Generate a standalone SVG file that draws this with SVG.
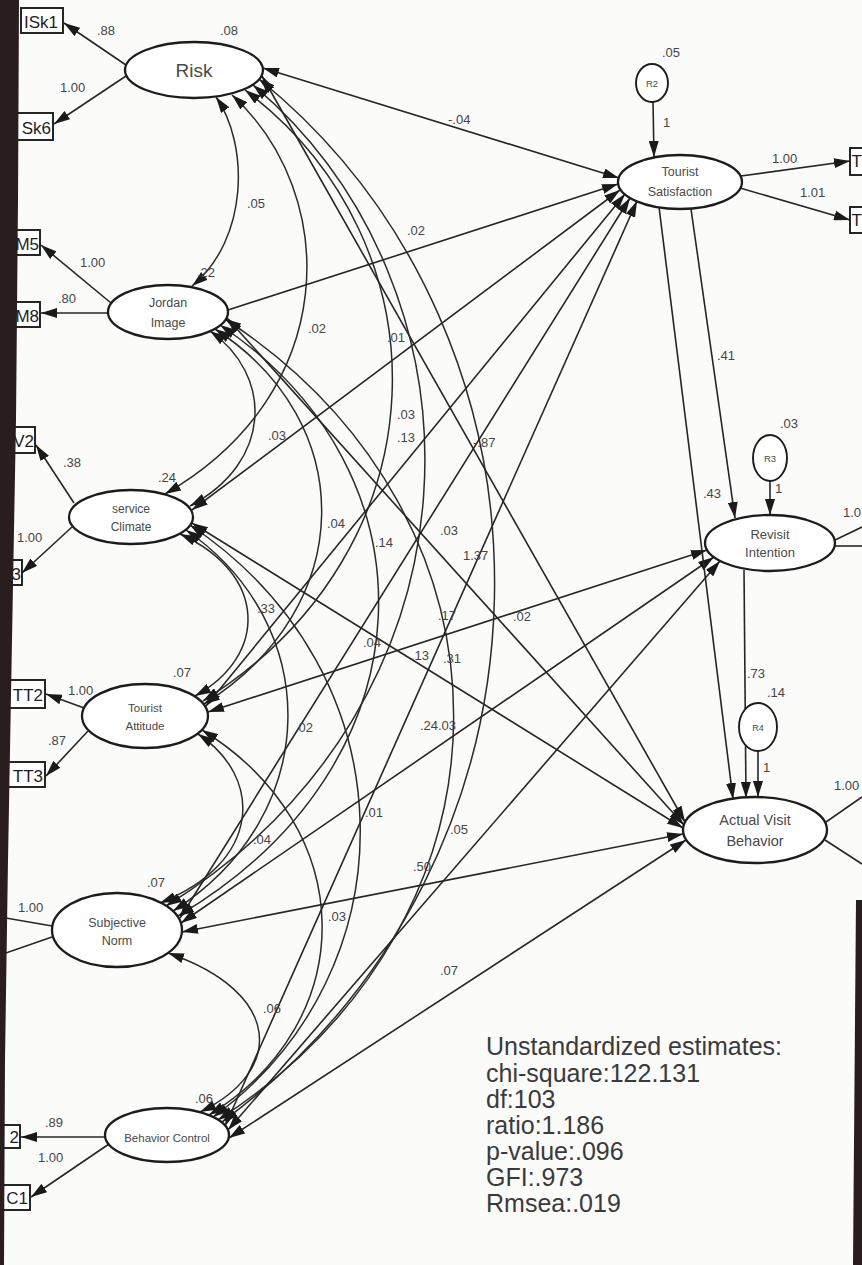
<svg xmlns="http://www.w3.org/2000/svg" width="862" height="1265" viewBox="0 0 862 1265">
  <style>
    .bg { fill: #fbfbfa; }
    .lat { fill: #ffffff; stroke: #1c1c1c; stroke-width: 2.3; }
    .res { fill: #ffffff; stroke: #1c1c1c; stroke-width: 1.9; }
    .obs { fill: #ffffff; stroke: #1c1c1c; stroke-width: 1.9; }
    .ln { fill: none; stroke: #262626; stroke-width: 1.6; }
    .cv { fill: none; stroke: #2b2b2b; stroke-width: 1.5; }
    .one { marker-end: url(#ah); }
    .two { marker-start: url(#ah); marker-end: url(#ah); }
    .nt { font-family: "Liberation Sans", Arial, sans-serif; fill: #4a4a4a; text-anchor: middle; }
    .ot { font-family: "Liberation Sans", Arial, sans-serif; fill: #1e1e1e; font-size: 17px; }
    .lb { font-family: "Liberation Sans", Arial, sans-serif; fill: #454545; font-size: 13px; }
    .fit { font-family: "Liberation Sans", Arial, sans-serif; fill: #3a3a3a; font-size: 25px; }
    .edge { fill: #2a1d1d; }
  </style>
  <defs>
    <marker id="ah" markerUnits="userSpaceOnUse" markerWidth="16" markerHeight="10" refX="16" refY="5" orient="auto-start-reverse">
      <path d="M0,0 L16,5 L0,10 z" fill="#1a1a1a"/>
    </marker>
  </defs>

  <rect class="bg" x="0" y="0" width="862" height="1265"/>

  <!-- connectors: loadings, covariances, structural paths, residual arrows -->
  <g id="connectors">
    <!-- measurement loadings -->
    <line class="ln one" x1="126" y1="65" x2="64" y2="23"/>
    <line class="ln one" x1="126" y1="76" x2="54" y2="124"/>
    <line class="ln one" x1="111" y1="303" x2="41" y2="245"/>
    <line class="ln one" x1="108" y1="313" x2="41" y2="313"/>
    <line class="ln one" x1="74" y1="503" x2="36" y2="445"/>
    <line class="ln one" x1="72" y1="527" x2="22" y2="573"/>
    <line class="ln one" x1="84" y1="708" x2="46" y2="694"/>
    <line class="ln one" x1="88" y1="731" x2="46" y2="776"/>
    <line class="ln" x1="52" y1="926" x2="0" y2="917"/>
    <line class="ln" x1="52" y1="937" x2="0" y2="955"/>
    <line class="ln one" x1="105" y1="1137" x2="21" y2="1137"/>
    <line class="ln one" x1="109" y1="1144" x2="31" y2="1197"/>
    <line class="ln one" x1="741" y1="176" x2="850" y2="161"/>
    <line class="ln one" x1="740" y1="188" x2="850" y2="220"/>
    <line class="ln" x1="835" y1="540" x2="862" y2="527"/>
    <line class="ln" x1="835" y1="546" x2="862" y2="546"/>
    <line class="ln" x1="826" y1="822" x2="862" y2="797"/>
    <line class="ln" x1="825" y1="840" x2="862" y2="864"/>

    <!-- covariances among exogenous factors -->
    <path class="cv two" d="M216,97 C249,144 249,239 192,286"/>
    <path class="cv two" d="M232,95 C341,195 341,393 165,494"/>
    <path class="cv two" d="M245,90 C448,243 448,548 203,701"/>
    <path class="cv two" d="M253,85 C495,290 495,701 166,906"/>
    <path class="cv two" d="M259,79 C579,339 579,859 222,1122"/>
    <path class="cv two" d="M210,331 C273,375 273,462 190,506"/>
    <path class="cv two" d="M215,329 C359,422 359,607 204,704"/>
    <path class="cv two" d="M220,325 C438,470 438,762 178,916"/>
    <path class="cv two" d="M225,319 C531,519 531,918 218,1120"/>
    <path class="cv two" d="M180,534 C268,574 268,656 195,696"/>
    <path class="cv two" d="M186,530 C324,625 324,815 173,911"/>
    <path class="cv two" d="M190,525 C413,674 413,972 213,1117"/>
    <path class="cv two" d="M198,734 C263,777 263,862 160,903"/>
    <path class="cv two" d="M202,730 C361,828 361,1022 209,1115"/>
    <path class="cv two" d="M168,953 C284,993 284,1072 200,1112"/>

    <!-- paths to Tourist Satisfaction -->
    <line class="ln two" x1="263" y1="68" x2="619" y2="178"/>
    <line class="ln one" x1="228" y1="310" x2="618" y2="184"/>
    <line class="ln two" x1="192" y1="510" x2="620" y2="190"/>
    <line class="ln two" x1="206" y1="706" x2="625" y2="194"/>
    <line class="ln two" x1="180" y1="918" x2="630" y2="198"/>
    <line class="ln two" x1="225" y1="1126" x2="637" y2="201"/>
    <!-- paths to Revisit Intention -->
    <line class="ln two" x1="208" y1="712" x2="707" y2="550"/>
    <line class="ln two" x1="181" y1="923" x2="714" y2="557"/>
    <line class="ln two" x1="228" y1="1130" x2="720" y2="561"/>
    <!-- paths to Actual Visit Behavior -->
    <line class="ln two" x1="262" y1="76" x2="685" y2="822"/>
    <line class="ln two" x1="227" y1="318" x2="684" y2="825"/>
    <line class="ln two" x1="192" y1="523" x2="683" y2="828"/>
    <line class="ln two" x1="182" y1="932" x2="683" y2="834"/>
    <line class="ln two" x1="229" y1="1138" x2="686" y2="840"/>
    <!-- endogenous paths and residuals -->
    <line class="ln one" x1="691" y1="209" x2="735" y2="518"/>
    <line class="ln one" x1="659" y1="207" x2="733" y2="799"/>
    <line class="ln one" x1="744" y1="570" x2="746" y2="798"/>
    <line class="ln one" x1="653" y1="102" x2="654" y2="157"/>
    <line class="ln one" x1="770" y1="481" x2="770" y2="515"/>
    <line class="ln one" x1="758" y1="751" x2="758" y2="797"/>
  </g>

  <!-- coefficient labels -->
  <g id="estimates" class="lb">
    <text x="97" y="35">.88</text>
    <text x="220" y="35">.08</text>
    <text x="60" y="92">1.00</text>
    <text x="80" y="267">1.00</text>
    <text x="58" y="303">.80</text>
    <text x="247" y="208">.05</text>
    <text x="197" y="277">.22</text>
    <text x="63" y="467">.38</text>
    <text x="17" y="542">1.00</text>
    <text x="158" y="482">.24</text>
    <text x="268" y="440">.03</text>
    <text x="68" y="695">1.00</text>
    <text x="48" y="745">.87</text>
    <text x="173" y="677">.07</text>
    <text x="18" y="912">1.00</text>
    <text x="147" y="887">.07</text>
    <text x="45" y="1127">.89</text>
    <text x="38" y="1162">1.00</text>
    <text x="195" y="1103">.06</text>
    <text x="662" y="57">.05</text>
    <text x="663" y="127">1</text>
    <text x="772" y="163">1.00</text>
    <text x="800" y="197">1.01</text>
    <text x="717" y="360">.41</text>
    <text x="780" y="428">.03</text>
    <text x="775" y="493">1</text>
    <text x="703" y="498">.43</text>
    <text x="843" y="517">1.0</text>
    <text x="747" y="678">.73</text>
    <text x="767" y="697">.14</text>
    <text x="763" y="772">1</text>
    <text x="834" y="790">1.00</text>
    <text x="448" y="124">-.04</text>
    <text x="407" y="235">.02</text>
    <text x="308" y="333">.02</text>
    <text x="387" y="342">.01</text>
    <text x="397" y="419">.03</text>
    <text x="397" y="442">.13</text>
    <text x="473" y="447">-.87</text>
    <text x="327" y="528">.04</text>
    <text x="375" y="547">.14</text>
    <text x="440" y="535">.03</text>
    <text x="463" y="560">1.37</text>
    <text x="257" y="613">.33</text>
    <text x="438" y="620">.17</text>
    <text x="513" y="621">.02</text>
    <text x="363" y="647">.04</text>
    <text x="411" y="660">.13</text>
    <text x="443" y="663">.31</text>
    <text x="295" y="732">.02</text>
    <text x="420" y="730">.24</text>
    <text x="438" y="730">.03</text>
    <text x="365" y="817">.01</text>
    <text x="450" y="834">.05</text>
    <text x="253" y="844">.04</text>
    <text x="413" y="871">.50</text>
    <text x="328" y="921">.03</text>
    <text x="440" y="975">.07</text>
    <text x="263" y="1013">.06</text>
  </g>

  <!-- latent factors -->
  <g id="node-risk">
    <ellipse class="lat" cx="194" cy="70" rx="69" ry="28"/>
    <text class="nt" x="194" y="77" font-size="19">Risk</text>
  </g>
  <g id="node-jordan-image">
    <ellipse class="lat" cx="168" cy="312" rx="60" ry="27"/>
    <text class="nt" x="168" y="307" font-size="12.5">Jordan</text>
    <text class="nt" x="168" y="327" font-size="12.5">Image</text>
  </g>
  <g id="node-service-climate">
    <ellipse class="lat" cx="131" cy="517" rx="62" ry="27"/>
    <text class="nt" x="131" y="513" font-size="12">service</text>
    <text class="nt" x="131" y="531" font-size="12">Climate</text>
  </g>
  <g id="node-tourist-attitude">
    <ellipse class="lat" cx="145" cy="716" rx="63" ry="32"/>
    <text class="nt" x="145" y="712" font-size="11.5">Tourist</text>
    <text class="nt" x="145" y="730" font-size="11.5">Attitude</text>
  </g>
  <g id="node-subjective-norm">
    <ellipse class="lat" cx="117" cy="930" rx="65" ry="37"/>
    <text class="nt" x="117" y="927" font-size="12.5">Subjective</text>
    <text class="nt" x="117" y="945" font-size="12.5">Norm</text>
  </g>
  <g id="node-behavior-control">
    <ellipse class="lat" cx="167" cy="1135" rx="62" ry="27"/>
    <text class="nt" x="167" y="1142" font-size="11.5">Behavior Control</text>
  </g>
  <g id="node-tourist-satisfaction">
    <ellipse class="lat" cx="680" cy="182" rx="62" ry="27"/>
    <text class="nt" x="680" y="176" font-size="12.5">Tourist</text>
    <text class="nt" x="680" y="196" font-size="12.5">Satisfaction</text>
  </g>
  <g id="node-revisit-intention">
    <ellipse class="lat" cx="770" cy="543" rx="65" ry="28"/>
    <text class="nt" x="770" y="539" font-size="13">Revisit</text>
    <text class="nt" x="770" y="557" font-size="13">Intention</text>
  </g>
  <g id="node-actual-visit-behavior">
    <ellipse class="lat" cx="755" cy="830" rx="72" ry="33"/>
    <text class="nt" x="755" y="825" font-size="14.5">Actual Visit</text>
    <text class="nt" x="755" y="846" font-size="14.5">Behavior</text>
  </g>

  <!-- residuals -->
  <g id="node-r2">
    <ellipse class="res" cx="652" cy="83" rx="16" ry="19"/>
    <text class="nt" x="652" y="87" font-size="9.5">R2</text>
  </g>
  <g id="node-r3">
    <ellipse class="res" cx="770" cy="458" rx="17" ry="23"/>
    <text class="nt" x="770" y="462" font-size="9.5">R3</text>
  </g>
  <g id="node-r4">
    <ellipse class="res" cx="758" cy="727" rx="19" ry="24"/>
    <text class="nt" x="758" y="731" font-size="9">R4</text>
  </g>

  <!-- observed indicators -->
  <g id="node-isk1"><rect class="obs" x="21" y="8" width="42" height="25"/><text class="ot" x="24" y="28">ISk1</text></g>
  <g id="node-sk6"><rect class="obs" x="14" y="113" width="39" height="27"/><text class="ot" x="51" y="134" text-anchor="end">Sk6</text></g>
  <g id="node-m5"><rect class="obs" x="14" y="230" width="26" height="25"/><text class="ot" x="39" y="250" text-anchor="end" font-size="16">M5</text></g>
  <g id="node-m8"><rect class="obs" x="14" y="302" width="26" height="25"/><text class="ot" x="39" y="322" text-anchor="end" font-size="16">M8</text></g>
  <g id="node-v2"><rect class="obs" x="10" y="427" width="25" height="26"/><text class="ot" x="34" y="447" text-anchor="end" font-size="16">V2</text></g>
  <g id="node-sc3"><rect class="obs" x="6" y="560" width="16" height="25"/><text class="ot" x="21" y="580" text-anchor="end" font-size="16">3</text></g>
  <g id="node-tt2"><rect class="obs" x="-2" y="680" width="47" height="28"/><text class="ot" x="43" y="701" text-anchor="end">TT2</text></g>
  <g id="node-tt3"><rect class="obs" x="-2" y="762" width="47" height="25"/><text class="ot" x="43" y="782" text-anchor="end">TT3</text></g>
  <g id="node-c2"><rect class="obs" x="-2" y="1125" width="22" height="23"/><text class="ot" x="19" y="1143" text-anchor="end" font-size="16">2</text></g>
  <g id="node-c1"><rect class="obs" x="3" y="1185" width="27" height="25"/><text class="ot" x="28" y="1204" text-anchor="end" font-size="16">C1</text></g>
  <g id="node-t1"><rect class="obs" x="850" y="148" width="15" height="27"/><text class="ot" x="851.5" y="167" font-size="15">T</text></g>
  <g id="node-t2"><rect class="obs" x="850" y="207" width="15" height="26"/><text class="ot" x="851.5" y="226" font-size="15">T</text></g>

  <!-- model fit summary -->
  <g id="fit-summary" class="fit">
    <text x="486" y="1055">Unstandardized estimates:</text>
    <text x="486" y="1082">chi-square:122.131</text>
    <text x="486" y="1108">df:103</text>
    <text x="486" y="1134">ratio:1.186</text>
    <text x="486" y="1160">p-value:.096</text>
    <text x="486" y="1186">GFI:.973</text>
    <text x="486" y="1212">Rmsea:.019</text>
  </g>

  <!-- page edges -->
  <polygon class="edge" points="0,0 19,0 18,200 16,420 12,640 8,860 5,1060 4,1265 0,1265"/>
  <polygon class="edge" points="856,900 862,900 862,1265 853,1265"/>
</svg>
